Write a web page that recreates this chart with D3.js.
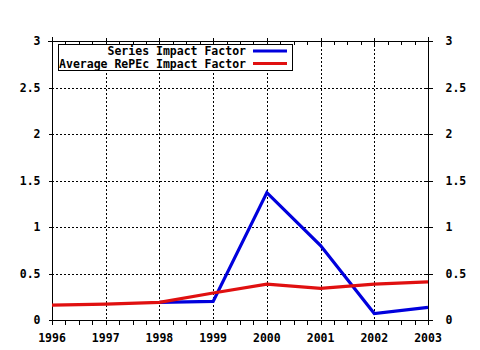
<!DOCTYPE html>
<html>
<head>
<meta charset="utf-8">
<script src="https://cdn.jsdelivr.net/npm/d3@7/dist/d3.min.js"></script>
<style>
  body { margin: 0; background: #fff; }
  svg text { font-family: "DejaVu Sans Mono", monospace; font-weight: bold; font-size: 11.5px; fill: #000; }
</style>
</head>
<body>
<svg id="chart" width="480" height="350"></svg>
<script>
// Impact factor series by year
const years = [1996, 1997, 1998, 1999, 2000, 2001, 2002, 2003];
const seriesYears = [1998, 1999, 2000, 2001, 2002, 2003];
const seriesImpact = [0.19, 0.2, 1.37, 0.8, 0.07, 0.135];
const averageImpact = [0.16, 0.17, 0.19, 0.29, 0.385, 0.34, 0.385, 0.41];
const yTicks = [0, 0.5, 1, 1.5, 2, 2.5, 3];
const yTickLabels = ["0", "0.5", "1", "1.5", "2", "2.5", "3"];
const legendLabels = ["Series Impact Factor", "Average RePEc Impact Factor"];
const colors = ["#0000dd", "#e01010"];

const svg = d3.select("#chart");
const plotL = 52, plotR = 428, plotT = 41, plotB = 320;

const x = d3.scaleLinear().domain([1996, 2003]).range([plotL, plotR]);
const y = d3.scaleLinear().domain([0, 3]).range([plotB, plotT]);

// dotted grid
const grid = svg.append("g").attr("stroke", "#000").attr("stroke-width", 1)
  .attr("stroke-dasharray", "2,2").attr("shape-rendering", "crispEdges");
grid.selectAll("line.vx").data(years.slice(1, -1)).join("line").attr("class", "vx")
  .attr("x1", d => Math.round(x(d)) + 0.5).attr("x2", d => Math.round(x(d)) + 0.5)
  .attr("y1", plotT).attr("y2", plotB);
grid.selectAll("line.hy").data(yTicks.slice(1, -1)).join("line").attr("class", "hy")
  .attr("y1", d => Math.round(y(d)) + 0.5).attr("y2", d => Math.round(y(d)) + 0.5)
  .attr("x1", plotL).attr("x2", plotR);

// quarter-year minor ticks along the frame
const minor = d3.range(0, 29).map(i => 1996 + i / 4);

const bottomAxis = svg.append("g").attr("transform", `translate(0,${plotB + 0.5})`)
  .attr("shape-rendering", "crispEdges");
bottomAxis.call(d3.axisBottom(x).tickValues(minor).tickSize(4).tickFormat(""))
  .call(g => g.select(".domain").remove());
bottomAxis.selectAll("line").attr("stroke", "#000");
bottomAxis.append("line").attr("x1", plotL).attr("x2", plotR + 1).attr("stroke", "#000");
bottomAxis.selectAll("text.year").data(years).join("text")
  .attr("class", "year").attr("x", d => x(d)).attr("y", 21).attr("text-anchor", "middle")
  .text(d => d);

const topAxis = svg.append("g").attr("transform", `translate(0,${plotT + 0.5})`)
  .attr("shape-rendering", "crispEdges");
topAxis.call(d3.axisBottom(x).tickValues(minor).tickSize(3).tickFormat(""))
  .call(g => g.select(".domain").remove());
topAxis.append("g").call(d3.axisTop(x).tickValues(years).tickSize(4).tickFormat(""))
  .call(g => g.select(".domain").remove());
topAxis.selectAll("line").attr("stroke", "#000");
topAxis.append("line").attr("x1", plotL - 4).attr("x2", plotR + 4).attr("stroke", "#000");

const leftAxis = svg.append("g").attr("transform", `translate(${plotL + 0.5},0)`)
  .attr("shape-rendering", "crispEdges");
leftAxis.call(d3.axisLeft(y).tickValues(yTicks).tickSize(4).tickFormat(""))
  .call(g => g.select(".domain").remove());
leftAxis.selectAll("line").attr("stroke", "#000");
leftAxis.append("line").attr("y1", plotT - 4).attr("y2", plotB + 4).attr("stroke", "#000");
leftAxis.selectAll("text.lab").data(yTicks).join("text").attr("class", "lab")
  .attr("x", -12).attr("y", d => y(d) + 4).attr("text-anchor", "end")
  .text((d, i) => yTickLabels[i]);

const rightAxis = svg.append("g").attr("transform", `translate(${plotR + 0.5},0)`)
  .attr("shape-rendering", "crispEdges");
rightAxis.call(d3.axisRight(y).tickValues(yTicks).tickSize(4).tickFormat(""))
  .call(g => g.select(".domain").remove());
rightAxis.append("g").call(d3.axisLeft(y).tickValues(yTicks).tickSize(3).tickFormat(""))
  .call(g => g.select(".domain").remove());
rightAxis.selectAll("line").attr("stroke", "#000");
rightAxis.append("line").attr("y1", plotT - 4).attr("y2", plotB + 4).attr("stroke", "#000");
rightAxis.selectAll("text.lab").data(yTicks).join("text").attr("class", "lab")
  .attr("x", 17).attr("y", d => y(d) + 4).attr("text-anchor", "start")
  .text((d, i) => yTickLabels[i]);

// series lines
const line = d3.line().x(d => x(d[0])).y(d => y(d[1]));
svg.append("path").datum(d3.zip(seriesYears, seriesImpact))
  .attr("d", line).attr("fill", "none").attr("stroke", colors[0]).attr("stroke-width", 3.2);
svg.append("path").datum(d3.zip(years, averageImpact))
  .attr("d", line).attr("fill", "none").attr("stroke", colors[1]).attr("stroke-width", 3.2);

// legend
const legend = svg.append("g");
legend.append("rect").attr("x", 58.5).attr("y", 44.5).attr("width", 234).attr("height", 26)
  .attr("fill", "#fff").attr("stroke", "#000").attr("shape-rendering", "crispEdges");
legendLabels.forEach((lab, i) => {
  const ly = 51 + i * 12.5;
  legend.append("text").attr("x", 246).attr("y", ly + 4).attr("text-anchor", "end").text(lab);
  legend.append("line").attr("x1", 253).attr("x2", 287).attr("y1", ly).attr("y2", ly)
    .attr("stroke", colors[i]).attr("stroke-width", 3);
});
</script>
</body>
</html>
